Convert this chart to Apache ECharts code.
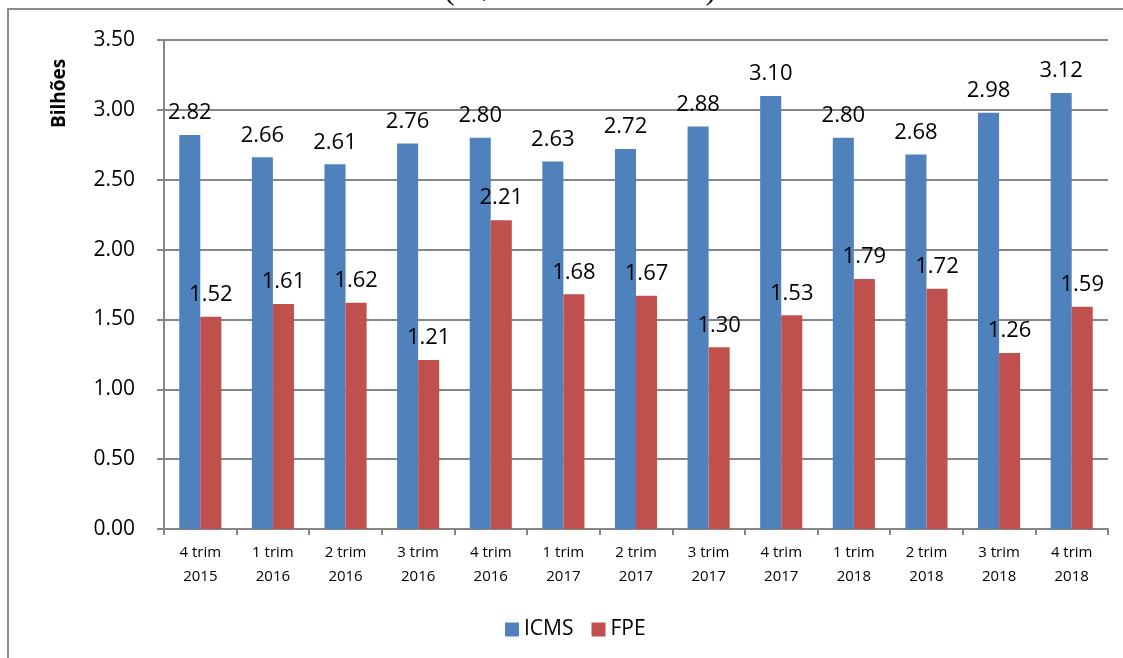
<!DOCTYPE html>
<html lang="pt">
<head>
    <meta charset="UTF-8">
    <title>ICMS x FPE</title>
    <script src="https://cdn.jsdelivr.net/npm/echarts@6/dist/echarts.min.js"></script>
    <style>
        html, body {
            margin: 0;
            height: 100%;
            background: #fff;
        }
    </style>
</head>
<body>
<!--container-->
<div id="main" style="width: 1123px;height: 658px"></div>
</body>
</html>
<script>
    // trimestres
    var categorias = ['4 trim\n2015', '1 trim\n2016', '2 trim\n2016', '3 trim\n2016', '4 trim\n2016',
        '1 trim\n2017', '2 trim\n2017', '3 trim\n2017', '4 trim\n2017', '1 trim\n2018',
        '2 trim\n2018', '3 trim\n2018', '4 trim\n2018'];
    // valores em bilhoes
    var icms = [2.82, 2.66, 2.61, 2.76, 2.80, 2.63, 2.72, 2.88, 3.10, 2.80, 2.68, 2.98, 3.12];
    var fpe = [1.52, 1.61, 1.62, 1.21, 2.21, 1.68, 1.67, 1.30, 1.53, 1.79, 1.72, 1.26, 1.59];

    var fonte = '"Open Sans", "DejaVu Sans", sans-serif';
    var myChart = echarts.init(document.getElementById('main'));

    function rotulo(p) {
        return p.value.toFixed(2);
    }

    var option = {
        animation: false,
        textStyle: {fontFamily: fonte},
        grid: {left: 164, right: 15, top: 40, bottom: 129},
        graphic: [
            {
                type: 'rect',
                shape: {x: 8, y: 9, width: 1125, height: 700},
                style: {fill: 'none', stroke: '#8c8c8c', lineWidth: 2}
            },
            {
                type: 'text',
                x: 580, y: -25,
                style: {
                    text: '(R$ 3º trim. de 2018)', fill: '#000',
                    font: '32px "Liberation Serif", serif', textAlign: 'center'
                }
            },
            {
                type: 'text',
                x: 50, y: 128,
                rotation: Math.PI / 2,
                style: {
                    text: 'Bilhões', fill: '#000',
                    font: 'bold 19px ' + fonte
                }
            }
        ],
        legend: {
            bottom: 13,
            left: 500,
            itemWidth: 14,
            itemHeight: 14,
            itemGap: 18,
            icon: 'rect',
            textStyle: {fontSize: 21, color: '#000', fontFamily: fonte},
            data: ['ICMS', 'FPE']
        },
        xAxis: {
            type: 'category',
            data: categorias,
            axisLine: {lineStyle: {color: '#868686', width: 2}},
            axisTick: {show: true, length: 6, lineStyle: {color: '#868686', width: 2}},
            axisLabel: {color: '#000', fontSize: 15, lineHeight: 24, margin: 12, interval: 0}
        },
        yAxis: {
            type: 'value',
            min: 0,
            max: 3.5,
            interval: 0.5,
            axisLine: {show: true, lineStyle: {color: '#868686', width: 2}},
            axisTick: {show: true, length: 7, lineStyle: {color: '#868686', width: 2}},
            splitLine: {lineStyle: {color: '#868686', width: 2}},
            axisLabel: {
                color: '#000', fontSize: 21, margin: 29,
                formatter: function (v) {
                    return v.toFixed(2);
                }
            }
        },
        series: [
            {
                name: 'ICMS',
                type: 'bar',
                data: icms,
                barGap: '0%',
                barCategoryGap: '42%',
                itemStyle: {color: '#4F81BD'},
                label: {
                    show: true, position: 'top', distance: 11,
                    color: '#000', fontSize: 22, formatter: rotulo
                }
            },
            {
                name: 'FPE',
                type: 'bar',
                data: fpe,
                itemStyle: {color: '#C0504D'},
                label: {
                    show: true, position: 'top', distance: 11,
                    color: '#000', fontSize: 22, formatter: rotulo
                }
            }
        ]
    };
    myChart.setOption(option);
</script>
